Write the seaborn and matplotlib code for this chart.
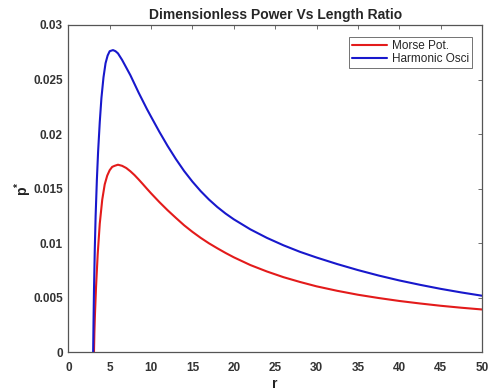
import numpy as np
import pandas as pd
import matplotlib
matplotlib.use("Agg")
import matplotlib.pyplot as plt
import seaborn as sns

# values
r_harmonic = [3.0, 3.05, 3.1, 3.2, 3.3, 3.45, 3.6, 3.8, 4.0, 4.25, 4.5, 4.75, 5.0,
              5.4, 5.7, 6.0, 6.5, 7.0, 7.5, 8.0, 8.5, 9.0, 9.5, 10, 11, 12, 13,
              14, 15, 16, 17, 18, 19, 20, 22, 24, 26, 28, 30, 32.5, 35, 37.5,
              40, 42.5, 45, 47.5, 50]
p_harmonic = [0.0, 0.0030, 0.0056, 0.0095, 0.0125, 0.0158, 0.0184, 0.0211, 0.0233,
              0.0252, 0.0265, 0.0272, 0.0276, 0.0277, 0.0276, 0.0274, 0.0268,
              0.0261, 0.0254, 0.0246, 0.0238, 0.02305, 0.0223, 0.0216, 0.02022,
              0.01892, 0.01772, 0.01662, 0.01565, 0.01478, 0.01401, 0.01333,
              0.01273, 0.0122, 0.01128, 0.0105, 0.00982, 0.00922, 0.0087,
              0.0081, 0.00755, 0.00705, 0.0066, 0.0062, 0.00583, 0.0055, 0.0052]

r_morse = [3.1, 3.15, 3.22, 3.35, 3.55, 3.8, 4.1, 4.4, 4.7, 5.0, 5.3, 5.6, 6.0,
           6.5, 7.0, 7.5, 8.0, 8.5, 9.0, 9.5, 10, 11, 12, 13, 14, 15, 16, 17,
           18, 19, 20, 22, 24, 26, 28, 30, 32.5, 35, 37.5, 40, 42.5, 45, 47.5, 50]
p_morse = [0.0, 0.0018, 0.0035, 0.0060, 0.0090, 0.0118, 0.0140, 0.0154, 0.0162,
           0.0167, 0.0170, 0.0171, 0.0172, 0.0171, 0.0169, 0.0166, 0.01625,
           0.01585, 0.01543, 0.0150, 0.01458, 0.01378, 0.01303, 0.01233,
           0.01165, 0.01105, 0.0105, 0.0100, 0.00955, 0.00912, 0.00872,
           0.00801, 0.00742, 0.0069, 0.00646, 0.00606, 0.00565, 0.00529,
           0.00499, 0.00472, 0.00449, 0.00428, 0.0041, 0.00394]

x_ticks = [0, 5, 10, 15, 20, 25, 30, 35, 40, 45, 50]
y_ticks = [0, 0.005, 0.01, 0.015, 0.02, 0.025, 0.03]
y_tick_labels = ['0', '0.005', '0.01', '0.015', '0.02', '0.025', '0.03']


def main():
    sns.set_style("white")
    plt.rcParams['font.family'] = ['Liberation Sans', 'DejaVu Sans']
    plt.rcParams['mathtext.fontset'] = 'custom'
    plt.rcParams['mathtext.bf'] = 'Liberation Sans:bold'
    plt.rcParams['mathtext.rm'] = 'Liberation Sans:bold'

    fig = plt.figure(figsize=(4.88, 3.91), dpi=100)
    ax = fig.add_axes([0.14, 0.0985, 0.8477, 0.8376])

    df_m = pd.DataFrame({'r': r_morse, 'p': p_morse})
    df_h = pd.DataFrame({'r': r_harmonic, 'p': p_harmonic})

    sns.lineplot(data=df_m, x='r', y='p', color='#e31b1b', lw=1.5,
                 label='Morse Pot.', ax=ax, sort=False, estimator=None)
    sns.lineplot(data=df_h, x='r', y='p', color='#1818cc', lw=1.5,
                 label='Harmonic Osci', ax=ax, sort=False, estimator=None)

    ax.set_xlim(0, 50)
    ax.set_ylim(0, 0.03)
    ax.set_xticks(x_ticks)
    ax.set_xticklabels([str(t) for t in x_ticks])
    ax.set_yticks(y_ticks)
    ax.set_yticklabels(y_tick_labels)

    for s in ax.spines.values():
        s.set_color('#555555')
        s.set_linewidth(0.9)
    ax.tick_params(direction='in', length=3, width=0.6, colors='#555555',
                   top=True, right=True, labelsize=8.5)
    ax.tick_params(axis='x', pad=7)
    ax.tick_params(axis='y', pad=4)
    for lab in ax.get_xticklabels() + ax.get_yticklabels():
        lab.set_fontweight('bold')
        lab.set_color('#333333')

    ax.set_title('Dimensionless Power Vs Length Ratio', fontsize=10,
                 fontweight='bold', pad=4)
    ax.set_xlabel('r', fontsize=10, fontweight='bold', labelpad=2,
                  color='#222222')
    ax.set_ylabel(r'$\mathbf{p^{*}}$', fontsize=10, labelpad=-1,
                  color='#222222')

    leg = ax.legend(loc='upper right', fontsize=8.5, frameon=True,
                    fancybox=False, handlelength=3.0, borderpad=0.25,
                    labelspacing=0.05, handletextpad=0.4,
                    borderaxespad=0, bbox_to_anchor=(0.976, 0.963))
    leg.get_frame().set_edgecolor('#333333')
    leg.get_frame().set_linewidth(0.6)

    fig.savefig('out.png', dpi=100)


if __name__ == "__main__":
    main()
